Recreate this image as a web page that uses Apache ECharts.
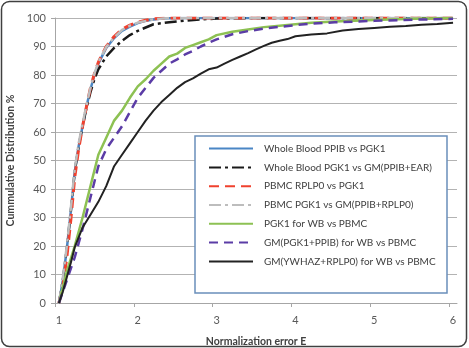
<!DOCTYPE html>
<html>
<head>
<meta charset="utf-8">
<script src="https://cdn.jsdelivr.net/npm/echarts@6/dist/echarts.min.js"></script>
<style>
  html, body { margin: 0; padding: 0; background: #fff; }
  #main { width: 469px; height: 348px; }
</style>
</head>
<body>
<div id="main"></div>
<script>
// series names (legend order)
const names = [
  'Whole Blood PPIB vs PGK1',
  'Whole Blood PGK1 vs GM(PPIB+EAR)',
  'PBMC RPLP0 vs PGK1',
  'PBMC PGK1 vs GM(PPIB+RPLP0)',
  'PGK1 for WB vs PBMC',
  'GM(PGK1+PPIB) for WB vs PBMC',
  'GM(YWHAZ+RPLP0) for WB vs PBMC'
]

// x values (normalization error E) and cumulative %
const xBlue = [1.0, 1.05, 1.1, 1.15, 1.2, 1.25, 1.3, 1.35, 1.4, 1.45, 1.5, 1.6, 1.7, 1.8, 1.9, 2.0, 2.1, 2.2, 2.3, 2.5, 6.0]
const yBlue = [0, 8, 19, 32, 46, 55, 62, 69, 75, 80, 84, 89.5, 93, 95.5, 97, 98.2, 99, 99.5, 99.8, 100, 100]

const xBlackDash = [1.0, 1.05, 1.1, 1.15, 1.2, 1.25, 1.3, 1.35, 1.4, 1.45, 1.5, 1.6, 1.7, 1.8, 1.9, 2.0, 2.2, 2.4, 2.6, 2.8, 3.0, 3.5, 6.0]
const yBlackDash = [0, 8, 19, 32, 46, 55, 62, 68.5, 74, 78.5, 82, 86.5, 89.5, 92, 94, 95.5, 97.8, 98.5, 99.1, 99.5, 99.8, 100, 100]

const xRed = [1.0, 1.05, 1.1, 1.15, 1.2, 1.25, 1.3, 1.35, 1.4, 1.45, 1.5, 1.6, 1.7, 1.8, 1.9, 2.0, 2.1, 2.2, 2.4, 6.0]
const yRed = [0, 6, 16, 29, 44, 54, 62, 69, 75.5, 80.5, 84.5, 90, 93.5, 96, 97.5, 98.5, 99.2, 99.7, 100, 100]

const xGray = [1.0, 1.05, 1.1, 1.15, 1.2, 1.25, 1.3, 1.35, 1.4, 1.45, 1.5, 1.6, 1.7, 1.8, 1.9, 2.0, 2.2, 2.4, 6.0]
const yGray = [0, 9, 20, 33, 47, 56, 63, 69.5, 75.5, 80.5, 84.5, 89.8, 93.2, 95.8, 97.3, 98.4, 99.5, 100, 100]

const xGreen = [1.0, 1.1, 1.2, 1.3, 1.4, 1.5, 1.6, 1.7, 1.8, 1.9, 2.0, 2.1, 2.2, 2.3, 2.4, 2.5, 2.6, 2.7, 2.8, 2.9, 3.0, 3.2, 3.4, 3.6, 3.8, 4.0, 4.2, 4.5, 5.0, 5.5, 6.0]
const yGreen = [0, 11, 20, 30, 41, 52, 58, 64, 67.5, 72, 76, 78.5, 81.5, 84, 86.5, 87.5, 89.5, 90.5, 91.5, 92.5, 94, 95.2, 96, 96.8, 97.3, 97.8, 98.3, 98.8, 99.3, 99.7, 100]

const xPurple = [1.0, 1.1, 1.2, 1.3, 1.4, 1.5, 1.6, 1.7, 1.8, 1.9, 2.0, 2.1, 2.2, 2.3, 2.4, 2.5, 2.6, 2.7, 2.8, 2.9, 3.0, 3.2, 3.4, 3.6, 3.8, 4.0, 4.2, 4.5, 5.0, 5.5, 6.0]
const yPurple = [0, 8, 16, 26, 37, 48, 54, 58, 62, 67, 72, 75.5, 79, 81.5, 84, 85.5, 87.2, 88.5, 90, 91.3, 92.5, 94.3, 95.4, 96.3, 96.9, 97.5, 98, 98.5, 99, 99.4, 99.7]

const xBlack = [1.0, 1.05, 1.1, 1.15, 1.2, 1.3, 1.4, 1.5, 1.6, 1.7, 1.8, 1.9, 2.0, 2.1, 2.2, 2.3, 2.4, 2.5, 2.6, 2.7, 2.8, 2.9, 3.0, 3.1, 3.2, 3.3, 3.4, 3.5, 3.6, 3.7, 3.8, 3.9, 4.0, 4.2, 4.4, 4.6, 4.8, 5.0, 5.2, 5.4, 5.6, 5.8, 6.0]
const yBlack = [0, 4, 9, 14, 19.5, 26.5, 31, 35.5, 41, 48, 52, 56, 60, 64, 67.5, 70.5, 73, 75.5, 77.5, 78.8, 80.5, 82, 82.6, 84, 85.3, 86.5, 87.7, 89, 90.2, 91.3, 92, 92.6, 93.6, 94.2, 94.6, 95.6, 96.1, 96.5, 96.9, 97.2, 97.6, 97.9, 98.3]

// tick labels
const xLabels = [1, 2, 3, 4, 5, 6]
const xTicks = [0.95, 1.95, 2.95, 3.95, 4.95, 5.95]

const font = 'Lato, "Open Sans", sans-serif'
const zip = (xs, ys) => xs.map((x, i) => [x, ys[i]])

function line(name, xs, ys, color, width, type) {
  return {
    name: name,
    type: 'line',
    data: zip(xs, ys),
    symbol: 'none',
    showSymbol: false,
    animation: false,
    lineStyle: { color: color, width: width, type: type || 'solid', cap: 'butt' },
    itemStyle: { color: color }
  }
}

const chart = echarts.init(document.getElementById('main'))

const option = {
  animation: false,
  grid: {
    left: 55,
    right: 12,
    top: 18,
    bottom: 45,
    outerBoundsMode: 'none'
  },
  xAxis: {
    type: 'value',
    min: 0.95,
    max: 6.05,
    name: 'Normalization error E',
    nameLocation: 'middle',
    nameGap: 33,
    nameTextStyle: { fontFamily: font, fontSize: 10.5, fontWeight: 'bold', color: '#404040' },
    axisLine: { show: true, lineStyle: { color: '#a6a6a6', width: 1 } },
    axisTick: { show: true, length: 4, customValues: xTicks, lineStyle: { color: '#a6a6a6' } },
    axisLabel: { customValues: xLabels, margin: 12, fontFamily: font, fontSize: 11, color: '#595959' },
    splitLine: { show: false }
  },
  yAxis: {
    type: 'value',
    min: 0,
    max: 100,
    interval: 10,
    name: 'Cummulative Distribution %',
    nameLocation: 'middle',
    nameGap: 34,
    nameTextStyle: { fontFamily: font, fontSize: 10.5, fontWeight: 'bold', color: '#404040' },
    axisLine: { show: true, lineStyle: { color: '#a6a6a6', width: 1 } },
    axisTick: { show: true, length: 4, lineStyle: { color: '#a6a6a6' } },
    axisLabel: { margin: 9, fontFamily: font, fontSize: 11, color: '#595959' },
    splitLine: { show: true, lineStyle: { color: '#b3b3b3', width: 1 } }
  },
  legend: {
    orient: 'vertical',
    left: 208,
    top: 143,
    padding: 0,
    itemWidth: 44,
    itemHeight: 14,
    itemGap: 7.6,
    z: 5,
    itemStyle: { opacity: 0 },
    textStyle: { fontFamily: font, fontSize: 10, color: '#404040', padding: [0, 0, 0, 6] },
    data: names
  },
  graphic: [
    {
      type: 'rect',
      z: 4,
      shape: { x: 195, y: 136, width: 252, height: 157 },
      style: { fill: '#fff', stroke: '#6a8fba', lineWidth: 1.5 }
    },
    {
      type: 'rect',
      z: 10,
      silent: true,
      shape: { x: 1.5, y: 1.5, width: 465, height: 345, r: 8 },
      style: { fill: 'none', stroke: '#404040', lineWidth: 1.5 }
    }
  ],
  series: [
    line(names[0], xBlue, yBlue, '#4a86c5', 2.5),
    line(names[1], xBlackDash, yBlackDash, '#1a1a1a', 2.5, [12, 4, 3, 4]),
    line(names[2], xRed, yRed, '#f0412e', 3, [10, 6]),
    line(names[3], xGray, yGray, '#bdbdbd', 2.5, [12, 4, 3, 4]),
    line(names[4], xGreen, yGreen, '#8dc153', 2.5),
    line(names[5], xPurple, yPurple, '#5b3ca6', 2.5, [9, 6]),
    line(names[6], xBlack, yBlack, '#222222', 2)
  ]
}

chart.setOption(option)
</script>
</body>
</html>
